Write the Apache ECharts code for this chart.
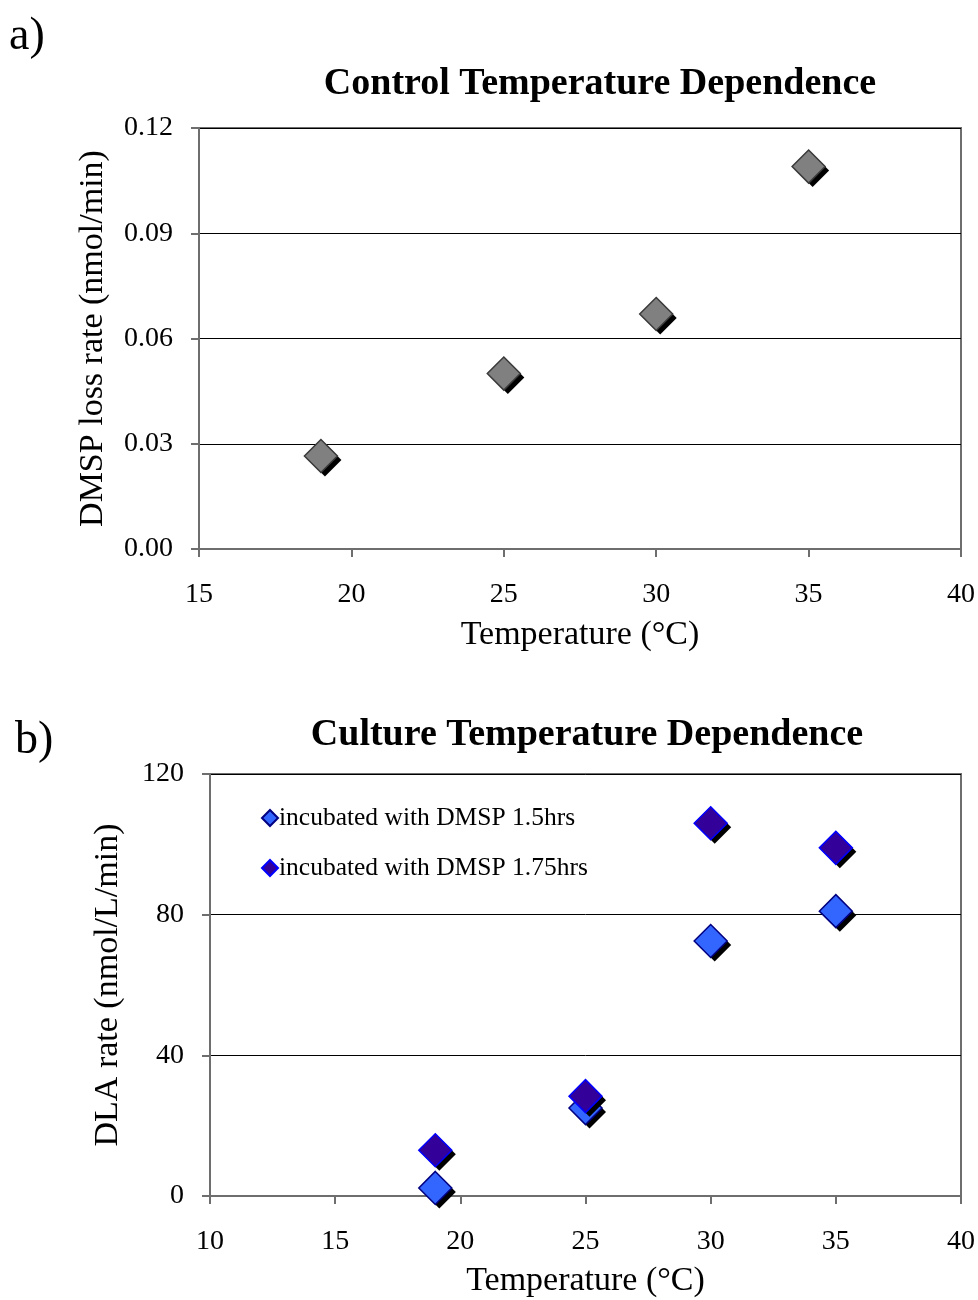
<!DOCTYPE html>
<html>
<head>
<meta charset="utf-8">
<script src="https://cdn.jsdelivr.net/npm/echarts@6/dist/echarts.min.js"></script>
<style>
  html, body { margin: 0; padding: 0; background: #fff; }
  #chart { width: 978px; height: 1300px; }
</style>
</head>
<body>
<div id="chart"></div>
<script>
// Panel a: control DMSP loss rate vs temperature
const controlTemps = [19, 25, 30, 35];
const controlRates = [0.0265, 0.050, 0.067, 0.109];

// Panel b: culture DLA rate vs temperature
const cultureTemps = [19, 25, 30, 35];
const dla15hrs = [2.3, 25, 72.5, 81];
const dla175hrs = [13, 28.4, 106, 99];

const seriesNames = ['incubated with DMSP 1.5hrs', 'incubated with DMSP 1.75hrs'];

const FONT = '"Liberation Serif", "DejaVu Serif", serif';
const MARK = 33;

const pairs = (xs, ys) => xs.map((x, i) => [x, ys[i]]);

function xAxisDef(gridIndex, min, gap) {
  return {
    gridIndex, type: 'value', min, max: 40, interval: 5,
    name: 'Temperature (°C)', nameLocation: 'middle', nameGap: gap,
    nameTextStyle: { fontFamily: FONT, fontSize: 34, color: '#000' },
    axisLine: { show: true, lineStyle: { color: '#6e6e6e', width: 2 } },
    axisTick: { show: true, inside: false, length: 8, lineStyle: { color: '#6e6e6e', width: 2 } },
    axisLabel: { fontFamily: FONT, fontSize: 28, color: '#000', margin: 32 },
    splitLine: { show: false }
  };
}

function yAxisDef(gridIndex, max, interval, name, gap, fmt) {
  return {
    gridIndex, type: 'value', min: 0, max, interval,
    name, nameLocation: 'middle', nameGap: gap, nameRotate: 90,
    nameTextStyle: { fontFamily: FONT, fontSize: 34, color: '#000' },
    axisLine: { show: true, lineStyle: { color: '#6e6e6e', width: 2 } },
    axisTick: { show: true, inside: false, length: 8, lineStyle: { color: '#6e6e6e', width: 2 } },
    axisLabel: { fontFamily: FONT, fontSize: 28, color: '#000', margin: 26, formatter: fmt },
    splitLine: { show: true, lineStyle: { color: '#000', width: 1 } }
  };
}

// A black diamond offset down-right, drawn beneath each marker as its drop shadow
function shadowSeries(name, gridIdx, data, z) {
  return {
    name, type: 'scatter', xAxisIndex: gridIdx, yAxisIndex: gridIdx,
    symbol: 'diamond', symbolSize: MARK, symbolOffset: [4, 4], z, silent: true,
    data, itemStyle: { color: '#000', borderWidth: 0, opacity: 1 }
  };
}

function markerSeries(name, gridIdx, data, fill, border, z) {
  return {
    name, type: 'scatter', xAxisIndex: gridIdx, yAxisIndex: gridIdx,
    symbol: 'diamond', symbolSize: MARK, z,
    data, itemStyle: { color: fill, borderColor: border, borderWidth: 1.5, opacity: 1 }
  };
}

const controlData = pairs(controlTemps, controlRates);
const data15 = pairs(cultureTemps, dla15hrs);
const data175 = pairs(cultureTemps, dla175hrs);

const chart = echarts.init(document.getElementById('chart'), null, { renderer: 'canvas' });

chart.setOption({
  backgroundColor: '#fff',
  animation: false,
  title: [
    { text: 'Control Temperature Dependence', left: 595, top: 60, textAlign: 'center',
      textStyle: { fontFamily: FONT, fontSize: 38, fontWeight: 'bold', color: '#000' } },
    { text: 'Culture Temperature Dependence', left: 582, top: 711, textAlign: 'center',
      textStyle: { fontFamily: FONT, fontSize: 38, fontWeight: 'bold', color: '#000' } }
  ],
  graphic: [
    { type: 'text', left: 9, top: 14, style: { text: 'a)', fontFamily: FONT, fontSize: 46, fill: '#000' } },
    { type: 'text', left: 15, top: 718, style: { text: 'b)', fontFamily: FONT, fontSize: 46, fill: '#000' } }
  ],
  legend: {
    show: true, left: 256, top: 800, orient: 'vertical', itemGap: 24,
    itemWidth: 16, itemHeight: 16,
    data: seriesNames.map(n => ({ name: n, icon: 'diamond' })),
    textStyle: { fontFamily: FONT, fontSize: 25.5, color: '#000', padding: [0, 0, 0, -4] }
  },
  grid: [
    { left: 199, right: 17, top: 128, height: 421, show: true, borderColor: '#6e6e6e', borderWidth: 2, backgroundColor: 'transparent' },
    { left: 210, right: 17, top: 774, height: 422, show: true, borderColor: '#6e6e6e', borderWidth: 2, backgroundColor: 'transparent' }
  ],
  xAxis: [xAxisDef(0, 15, 69), xAxisDef(1, 10, 68)],
  yAxis: [
    yAxisDef(0, 0.12, 0.03, 'DMSP loss rate (nmol/min)', 89, v => v.toFixed(2)),
    yAxisDef(1, 120, 40, 'DLA rate (nmol/L/min)', 85, v => String(v))
  ],
  series: [
    shadowSeries('control-shadow', 0, controlData, 2),
    markerSeries('control', 0, controlData, '#808080', '#3a3a3a', 3),
    shadowSeries('1.5hrs-shadow', 1, data15, 2),
    markerSeries(seriesNames[0], 1, data15, '#3366ff', '#000080', 3),
    shadowSeries('1.75hrs-shadow', 1, data175, 4),
    markerSeries(seriesNames[1], 1, data175, '#330099', '#0000ff', 5)
  ]
});
</script>
</body>
</html>
